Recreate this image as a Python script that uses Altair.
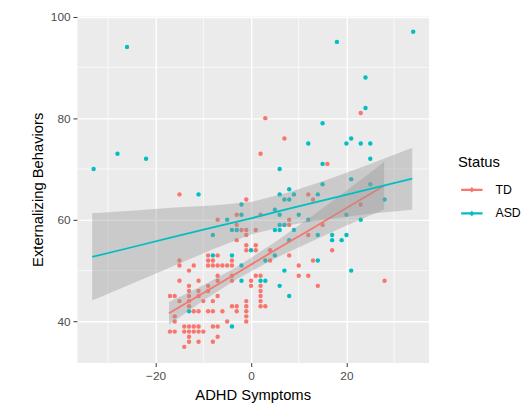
import altair as alt
import pandas as pd

# ---- scatter data ----
td_x = [-17, -16, -15, -17, -16, -16, -16,
        -15, -15, -15, -15,
        -14, -14, -14,
        -13, -13, -13, -13, -13, -13, -13, -13, -13, -13,
        -12, -12, -12, -12,
        -11, -11, -11, -11, -11, -11, -11,
        -10, -10,
        -9, -9, -9, -9, -9, -9,
        -8, -8, -8, -8, -8, -8,
        -7, -7, -7, -7, -7, -7, -7, -7,
        -6, -6,
        -5, -5,
        -4, -4, -4, -4, -4,
        -3, -3, -3, -3, -3,
        -2,
        -1, -1, -1, -1, -1, -1, -1, -1, -1, -1,
        0, 0,
        1, 1, 1, 1,
        2, 2, 2, 2, 2, 2, 2, 2,
        3, 3,
        4, 4,
        7,
        8, 8, 8,
        10, 10,
        12, 12, 12,
        13, 13,
        14, 15, 16, 17,
        23, 23, 28]
td_y = [45, 45, 44, 38, 38, 41, 40,
        52, 51, 48, 65,
        39, 38, 35,
        50, 47, 46, 45, 44, 43, 39, 38, 37, 36,
        51, 42, 39, 38,
        48, 46, 45, 42, 39, 38, 36,
        44, 38,
        53, 52, 51, 47, 46, 42,
        52, 51, 44, 42, 39, 36,
        60, 53, 51, 49, 48, 45, 39, 37,
        51, 42,
        51, 40,
        52, 51, 49, 48, 43,
        61, 59, 56, 43, 42,
        58,
        64, 58, 57, 55, 54, 44, 43, 42, 41, 40,
        48, 47,
        58, 55, 54, 49,
        73, 61, 49, 47, 46, 45, 44, 43,
        80, 43,
        54, 52,
        76,
        60, 59, 53,
        51, 49,
        65, 57, 49,
        64, 52,
        47, 59, 71, 54,
        81, 63, 48]

asd_x = [-33, -28, -26, -22, -13, -11, -8, -8, -5, -4, -4, -4, -3, -2, -2, -2, -2,
         0, 2, 3, 3, 5, 5, 5, 6, 6, 6, 6, 6, 6, 7, 7, 7, 8, 8, 8, 8, 9, 9, 10,
         12, 12, 14, 14, 14, 15, 15, 15, 17, 17, 18, 19, 20, 20, 20, 21, 21, 21,
         23, 23, 24, 24, 25, 25, 25, 28, 34]
asd_y = [70, 73, 94, 72, 42, 65, 57, 53, 60, 58, 53, 39, 58, 63, 61, 51, 48,
         54, 48, 48, 52, 62, 58, 53, 70, 65, 61, 59, 58, 47, 64, 59, 50, 66, 64, 56, 45, 65, 58, 61,
         75, 60, 65, 57, 52, 79, 71, 67, 57, 56, 95, 56, 75, 61, 57, 76, 68, 50,
         75, 60, 88, 82, 75, 72, 67, 64, 97]

# ---- fitted lines and 95% bands ----
td_band_x = [-17.2, -10, -3, 5, 13, 20, 27.9]
td_fit = [41.6, 45.6, 49.5, 54.0, 58.4, 62.3, 66.7]
td_lo = [39.35, 44.1, 48.3, 52.4, 55.9, 58.9, 62.05]
td_hi = [43.85, 47.1, 50.7, 55.6, 60.9, 65.7, 71.35]

asd_band_x = [-33.3, -25, -16, -8, 0, 8, 16, 25, 33.8]
asd_fit = [52.7, 54.6, 56.7, 58.5, 60.3, 62.2, 64.0, 66.1, 68.1]
asd_lo = [44.1, 47.4, 51.0, 54.2, 57.1, 59.0, 60.1, 61.2, 62.0]
asd_hi = [61.3, 61.8, 62.4, 62.8, 63.5, 65.4, 67.9, 71.0, 74.2]

# ---- axis breaks ----
x_major = [-20, 0, 20]
x_minor = [-30, -10, 10, 30]
y_major = [40, 60, 80, 100]
y_minor = [50, 70, 90]

groups = ["TD", "ASD"]
colors = ["#F8766D", "#00BFC4"]

pts = pd.DataFrame({
    "ADHD": td_x + asd_x,
    "EXT": td_y + asd_y,
    "Status": ["TD"] * len(td_x) + ["ASD"] * len(asd_x),
})
band = pd.DataFrame({
    "ADHD": td_band_x + asd_band_x,
    "fit": td_fit + asd_fit,
    "lo": td_lo + asd_lo,
    "hi": td_hi + asd_hi,
    "Status": ["TD"] * len(td_band_x) + ["ASD"] * len(asd_band_x),
})
xminor_df = pd.DataFrame({"v": x_minor})
yminor_df = pd.DataFrame({"v": y_minor})

FONT = "Liberation Sans"
xs = alt.Scale(domain=[-36.5, 37.2], nice=False, zero=False)
ys = alt.Scale(domain=[31.9, 100.1], nice=False, zero=False)

common_axis = dict(
    grid=True, gridColor="white", gridWidth=1.4,
    ticks=True, tickColor="#333333", tickWidth=1, tickSize=4,
    labelColor="#4d4d4d", labelFontSize=12, labelFont=FONT,
    titleFont=FONT, titleFontSize=15, titleFontWeight="normal", titleColor="black",
    domain=False,
)
x_axis = alt.Axis(values=x_major, labelPadding=4,
                  title="ADHD Symptoms", titlePadding=6, **common_axis)
y_axis = alt.Axis(values=y_major, labelPadding=3,
                  title="Externalizing Behaviors", titlePadding=5, **common_axis)

line_legend = alt.Legend(
    orient="none", legendX=387, legendY=141, title="Status", padding=0,
    rowPadding=3, labelOffset=9, symbolSize=713, symbolStrokeWidth=2.2,
    symbolType="M-0.85,0L0.78,0M-0.035,-0.09L0.055,0L-0.035,0.09L-0.125,0Z",
    symbolOpacity=1,
    titleFont=FONT, titleFontSize=15, titleFontWeight="normal", titleColor="black",
    titlePadding=6, labelFont=FONT, labelFontSize=12.5, labelColor="black",
)

status_scale = alt.Scale(domain=groups, range=colors)

x_minor_rules = alt.Chart(xminor_df).mark_rule(color="white", strokeWidth=0.7).encode(
    x=alt.X("v:Q", scale=xs, axis=x_axis))
y_minor_rules = alt.Chart(yminor_df).mark_rule(color="white", strokeWidth=0.7).encode(
    y=alt.Y("v:Q", scale=ys, axis=y_axis))

points = alt.Chart(pts).mark_circle(size=20, opacity=1).encode(
    x=alt.X("ADHD:Q", scale=xs, axis=x_axis),
    y=alt.Y("EXT:Q", scale=ys, axis=y_axis),
    fill=alt.Fill("Status:N", scale=status_scale, legend=line_legend),
)

def band_layer(g):
    return alt.Chart(band).transform_filter(alt.datum.Status == g).mark_area(
        opacity=0.4, color="#999999").encode(
        x=alt.X("ADHD:Q", scale=xs, axis=x_axis),
        y=alt.Y("lo:Q", scale=ys, axis=y_axis),
        y2="hi:Q",
    )

def line_layer(g):
    return alt.Chart(band).transform_filter(alt.datum.Status == g).mark_line(strokeWidth=1.8).encode(
        x=alt.X("ADHD:Q", scale=xs, axis=x_axis),
        y=alt.Y("fit:Q", scale=ys, axis=y_axis),
        stroke=alt.Stroke("Status:N", scale=status_scale, legend=line_legend),
    )

chart = alt.layer(
    x_minor_rules, y_minor_rules, points,
    band_layer("TD"), line_layer("TD"), band_layer("ASD"), line_layer("ASD")
).properties(
    width=357, height=352,
    autosize=alt.AutoSizeParams(type="none"),
    padding={"left": 70, "top": 5, "right": 96, "bottom": 45},
).configure_view(fill="#EBEBEB", stroke="transparent")

chart.save("out.html", embed_options={"renderer": "svg", "actions": False})
